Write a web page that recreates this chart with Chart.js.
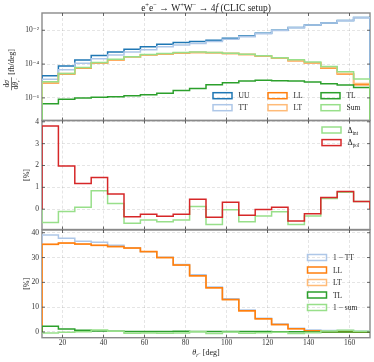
<!DOCTYPE html>
<html>
<head>
<meta charset="utf-8">
<script src="https://cdn.jsdelivr.net/npm/chart.js@4"></script>
<style>
html, body { margin: 0; padding: 0; background: #fff; }
#wrap { position: relative; width: 374px; height: 362px; }
#wrap canvas { position: absolute; left: 0; top: 0; }
</style>
</head>
<body>
<div id="wrap">
  <canvas id="rateChart" width="374" height="362"></canvas>
  <canvas id="deltaChart" width="374" height="362"></canvas>
  <canvas id="fracChart" width="374" height="362"></canvas>
</div>
<script>
// bin edges of theta [deg] and axis ticks
const thetaEdges = [10, 18, 26, 34, 42, 50, 58, 66, 74, 82, 90, 98, 106, 114, 122, 130, 138, 146, 154, 162, 170];
const thetaTicks = [20, 40, 60, 80, 100, 120, 140, 160];

// top panel: dsigma/dtheta [fb/deg]
const rateUU = [2.04e-5, 7.6e-5, 1.74e-4, 3.24e-4, 5.1e-4, 7.6e-4, 1.05e-3, 1.51e-3, 1.86e-3, 2.14e-3, 2.57e-3, 3.39e-3, 4.57e-3, 6.6e-3, 1.0e-2, 1.45e-2, 2.04e-2, 2.69e-2, 3.72e-2, 5.6e-2];
const rateTT = [1.26e-5, 4.68e-5, 1.12e-4, 2.09e-4, 3.39e-4, 5.13e-4, 7.08e-4, 1.05e-3, 1.35e-3, 1.66e-3, 2.14e-3, 2.95e-3, 4.17e-3, 6.3e-3, 9.8e-3, 1.41e-2, 2.02e-2, 2.67e-2, 3.70e-2, 5.58e-2];
const rateLL = [7.6e-6, 2.63e-5, 5.75e-5, 1.12e-4, 1.74e-4, 2.51e-4, 3.39e-4, 3.98e-4, 4.57e-4, 4.79e-4, 4.68e-4, 4.17e-4, 3.63e-4, 2.95e-4, 2.24e-4, 1.58e-4, 1.15e-4, 5.6e-5, 2.57e-5, 6.0e-6];
const rateLT = [7.9e-6, 2.75e-5, 6.0e-5, 1.15e-4, 1.78e-4, 2.57e-4, 3.47e-4, 4.07e-4, 4.68e-4, 4.9e-4, 4.79e-4, 4.27e-4, 3.72e-4, 3.02e-4, 2.29e-4, 1.62e-4, 1.17e-4, 6.0e-5, 2.8e-5, 7.1e-6];
const rateTL = [4.5e-7, 8.3e-7, 1.0e-6, 1.1e-6, 1.15e-6, 1.32e-6, 1.51e-6, 1.9e-6, 2.7e-6, 3.55e-6, 6.0e-6, 7.9e-6, 1.0e-5, 1.1e-5, 1.05e-5, 1.0e-5, 8.7e-6, 6.9e-6, 5.75e-6, 4.1e-6];
const rateSum = [9.1e-6, 2.8e-5, 6.3e-5, 1.26e-4, 1.9e-4, 2.69e-4, 3.72e-4, 4.27e-4, 4.9e-4, 5.1e-4, 4.9e-4, 4.37e-4, 3.8e-4, 3.16e-4, 2.4e-4, 1.78e-4, 1.32e-4, 7.2e-5, 3.55e-5, 1.32e-5];
const rateTicks = [1e-6, 1e-4, 1e-2];

// middle panel: Delta [%]
const deltaInt = [-0.61, -0.11, 0.09, 0.84, 0.26, -0.64, -0.5, -0.58, -0.5, 0.12, -0.7, -0.03, -0.58, -0.31, -0.12, -0.7, -0.31, 0.49, 0.78, 0.35];
const deltaPol = [3.81, 1.98, 1.18, 1.45, 0.69, -0.35, -0.23, -0.32, -0.23, 0.46, -0.37, 0.32, -0.28, -0.02, 0.09, -0.54, -0.21, 0.54, 0.81, 0.35];
const deltaTicks = [0, 1, 2, 3, 4];

// bottom panel: fractions [%]
const fracOneMinusTT = [39.1, 37.8, 36.6, 36.2, 35.0, 33.9, 32.3, 30.1, 27.2, 23.1, 18.1, 13.4, 8.9, 5.5, 3.2, 1.5, 0.8, 0.6, 0.6, 0.3];
const fracLL = [35.4, 35.9, 35.5, 35.0, 34.5, 33.8, 32.4, 30.0, 27.0, 22.7, 17.8, 13.1, 8.6, 5.3, 3.0, 1.35, 0.55, 0.1, 0.05, 0.02];
const fracLT = [35.3, 35.8, 35.4, 34.9, 34.4, 33.7, 32.3, 29.9, 26.9, 22.6, 17.7, 13.0, 8.5, 5.2, 2.9, 1.3, 0.5, 0.1, 0.05, 0.02];
const fracTL = [2.3, 1.2, 0.7, 0.45, 0.3, 0.2, 0.15, 0.15, 0.25, 0.2, 0.23, 0.2, 0.2, 0.15, 0.1, 0.07, 0.04, 0.03, 0.02, 0.01];
const fracOneMinusSum = [-0.45, -0.1, 0.1, 0.8, 0.25, -0.55, -0.45, -0.5, -0.45, 0.1, -0.6, -0.05, -0.5, -0.3, -0.1, -0.6, -0.3, 0.45, 0.7, 0.3];
const fracTicks = [0, 10, 20, 30, 40];

const col = {
    UU: '#1f77b4', TT: '#aec7e8', LL: '#ff7f0e', LT: '#ffbb78',
    TL: '#2ca02c', Sum: '#98df8a', pol: '#d62728'
};
const serif = "'Liberation Serif', 'DejaVu Serif', serif";
const tickFont = { family: serif, size: 7.5 };
const gridColor = 'rgba(0,0,0,0.13)';

// histogram outline: up from the base at the first edge, down at the last
function stepPoints(values, base) {
    const pts = [{ x: thetaEdges[0], y: base }];
    values.forEach((v, i) => pts.push({ x: thetaEdges[i], y: v }));
    pts.push({ x: thetaEdges[thetaEdges.length - 1], y: base });
    return pts;
}

function histSet(label, values, color, base, order) {
    return {
        label: label,
        data: stepPoints(values, base),
        borderColor: color,
        backgroundColor: color,
        borderWidth: 1.5,
        pointRadius: 0,
        fill: false,
        stepped: 'before',
        order: order
    };
}

function xAxis(showLabels) {
    return {
        type: 'linear', min: 10, max: 170,
        afterBuildTicks: s => { s.ticks = thetaTicks.map(v => ({ value: v })); },
        afterFit: s => { s.height = showLabels ? 24.3 : 0; },
        grid: { color: gridColor, lineWidth: 0.8, drawTicks: false },
        border: { display: false, dash: [3, 2] },
        ticks: { display: showLabels, padding: 1, color: '#333', font: tickFont, maxRotation: 0 }
    };
}

function yAxis(type, min, max, ticks, callback) {
    return {
        type: type, min: min, max: max,
        afterBuildTicks: s => { s.ticks = ticks.map(v => ({ value: v })); },
        afterFit: s => { s.width = 42; },
        grid: { color: gridColor, lineWidth: 0.8, drawTicks: false },
        border: { display: false, dash: [3, 2] },
        ticks: { padding: 3, color: '#333', font: tickFont, callback: callback }
    };
}

const sup = { '-': '\u207b', '0': '\u2070', '1': '\u00b9', '2': '\u00b2', '3': '\u00b3', '4': '\u2074', '5': '\u2075', '6': '\u2076', '7': '\u2077', '8': '\u2078', '9': '\u2079' };
function powLabel(v) {
    const e = String(Math.round(Math.log10(v)));
    return '10' + e.split('').map(c => sup[c]).join('');
}

// draw a run of text pieces: {t, size, dy, italic}
function richWidth(ctx, parts) {
    let w = 0;
    parts.forEach(p => {
        ctx.font = (p.italic ? 'italic ' : '') + p.size + 'px ' + serif;
        w += ctx.measureText(p.t).width;
    });
    return w;
}
function drawRich(ctx, parts, x, y, align) {
    let cx = x;
    if (align === 'center') cx = x - richWidth(ctx, parts) / 2;
    ctx.textAlign = 'left';
    ctx.textBaseline = 'alphabetic';
    parts.forEach(p => {
        ctx.font = (p.italic ? 'italic ' : '') + p.size + 'px ' + serif;
        ctx.fillText(p.t, cx, y + (p.dy || 0));
        cx += ctx.measureText(p.t).width;
    });
}

const panelDecor = {
    id: 'panelDecor',
    beforeDatasetsDraw(chart) {
        const ctx = chart.ctx, a = chart.chartArea;
        ctx.save();
        ctx.strokeStyle = '#8a8a8a';
        ctx.lineWidth = 1.4;
        ctx.strokeRect(a.left, a.top, a.right - a.left, a.bottom - a.top);
        ctx.restore();
    },
    afterDraw(chart, args, opts) {
        const ctx = chart.ctx, a = chart.chartArea;
        const xs = chart.scales.x, ys = chart.scales.y;
        ctx.save();
        // inward tick marks on all four sides
        ctx.strokeStyle = '#444';
        ctx.lineWidth = 0.8;
        ctx.beginPath();
        thetaTicks.forEach(v => {
            const px = xs.getPixelForValue(v);
            ctx.moveTo(px, a.bottom); ctx.lineTo(px, a.bottom - 3);
            ctx.moveTo(px, a.top); ctx.lineTo(px, a.top + 3);
        });
        ys.ticks.forEach(t => {
            const py = ys.getPixelForValue(t.value);
            ctx.moveTo(a.left, py); ctx.lineTo(a.left + 3, py);
            ctx.moveTo(a.right, py); ctx.lineTo(a.right - 3, py);
        });
        ctx.stroke();

        // legend with outlined boxes, column-major
        const lg = opts.legend;
        ctx.fillStyle = '#222';
        lg.items.forEach((it, i) => {
            const c = Math.floor(i / lg.rows.length), r = i % lg.rows.length;
            const bx = lg.cols[c], by = lg.rows[r];
            ctx.strokeStyle = it.color;
            ctx.lineWidth = 1.5;
            ctx.strokeRect(bx, by - 3, 19, 6);
            drawRich(ctx, it.parts, bx + 25.5, by + 2.7, 'left');
        });

        // axis labels / title
        ctx.fillStyle = '#222';
        if (opts.title) drawRich(ctx, opts.title, (a.left + a.right) / 2, 10.5, 'center');
        if (opts.xlabel) drawRich(ctx, opts.xlabel, (a.left + a.right) / 2, 355, 'center');
        if (opts.ylabel) opts.ylabel(ctx, a);
        ctx.restore();
    }
};

function pct(ctx, a) {
    ctx.save();
    ctx.translate(26.5, (a.top + a.bottom) / 2);
    ctx.rotate(-Math.PI / 2);
    drawRich(ctx, [{ t: '[%]', size: 8 }], 0, 2.8, 'center');
    ctx.restore();
}

function baseOptions(padding, scales, decor) {
    return {
        responsive: false,
        animation: false,
        devicePixelRatio: 1,
        events: [],
        layout: { padding: padding },
        scales: scales,
        plugins: { legend: { display: false }, tooltip: { enabled: false }, panelDecor: decor }
    };
}

const L = (t) => [{ t: t, size: 7.5 }];
const sm = (t, dy) => ({ t: t, size: 5.2, dy: dy });

// top panel
new Chart(document.getElementById('rateChart'), {
    type: 'line',
    data: {
        datasets: [
            histSet('UU', rateUU, col.UU, 1e-10, 0),
            histSet('TT', rateTT, col.TT, 1e-10, -1),
            histSet('LL', rateLL, col.LL, 1e-10, -2),
            histSet('LT', rateLT, col.LT, 1e-10, -3),
            histSet('TL', rateTL, col.TL, 1e-10, -4),
            histSet('Sum', rateSum, col.Sum, 1e-10, -5)
        ]
    },
    options: baseOptions({ left: 0, right: 4, top: 13, bottom: 241.5 }, {
        x: xAxis(false),
        y: yAxis('logarithmic', 4.6e-8, 0.105, rateTicks, powLabel)
    }, {
        legend: {
            cols: [213, 268, 321], rows: [95.7, 107.7],
            items: [
                { color: col.UU, parts: L('UU') }, { color: col.TT, parts: L('TT') },
                { color: col.LL, parts: L('LL') }, { color: col.LT, parts: L('LT') },
                { color: col.TL, parts: L('TL') }, { color: col.Sum, parts: L('Sum') }
            ]
        },
        title: [
            { t: 'e', size: 9.5 }, { t: '+', size: 6.5, dy: -3.5 }, { t: 'e', size: 9.5 }, { t: '\u2212', size: 6.5, dy: -3.5 },
            { t: ' \u2192 W', size: 9.5 }, { t: '+', size: 6.5, dy: -3.5 }, { t: 'W', size: 9.5 }, { t: '\u2212', size: 6.5, dy: -3.5 },
            { t: ' \u2192 4', size: 9.5 }, { t: 'f', size: 9.5, italic: true }, { t: ' (CLIC setup)', size: 9.5 }
        ],
        ylabel: (ctx, a) => {
            ctx.save();
            ctx.translate(11, (a.top + a.bottom) / 2);
            ctx.rotate(-Math.PI / 2);
            drawRich(ctx, [{ t: 'd', size: 7.5 }, { t: '\u03c3', size: 7.5, italic: true }], -17, -1.8, 'center');
            drawRich(ctx, [{ t: 'd', size: 7.5 }, { t: '\u03b8', size: 7.5, italic: true }, { t: 'r', size: 5, dy: 1.5, italic: true }, { t: '\u2212', size: 4, dy: -0.5 }], -17, 7.3, 'center');
            ctx.strokeStyle = '#222';
            ctx.lineWidth = 0.6;
            ctx.beginPath(); ctx.moveTo(-23.5, 0.5); ctx.lineTo(-10.5, 0.5); ctx.stroke();
            drawRich(ctx, [{ t: '[fb/deg]', size: 8 }], -8, 3.3, 'left');
            ctx.restore();
        }
    })
    ,
    plugins: [panelDecor]
});

// middle panel
new Chart(document.getElementById('deltaChart'), {
    type: 'line',
    data: {
        datasets: [
            histSet('\u0394int', deltaInt, col.Sum, 0, 0),
            histSet('\u0394pol', deltaPol, col.pol, 0, -1)
        ]
    },
    options: baseOptions({ left: 0, right: 4, top: 120.5, bottom: 132.5 }, {
        x: xAxis(false),
        y: yAxis('linear', -0.93, 4.06, deltaTicks, v => String(v))
    }, {
        legend: {
            cols: [322], rows: [130, 142.6],
            items: [
                { color: col.Sum, parts: [{ t: '\u0394', size: 8 }, sm('int', 1.8)] },
                { color: col.pol, parts: [{ t: '\u0394', size: 8 }, sm('pol', 1.8)] }
            ]
        },
        ylabel: pct
    }),
    plugins: [panelDecor]
});

// bottom panel
new Chart(document.getElementById('fracChart'), {
    type: 'line',
    data: {
        datasets: [
            histSet('1 - TT', fracOneMinusTT, col.TT, 0, 0),
            histSet('LT', fracLT, col.LT, 0, -1),
            histSet('LL', fracLL, col.LL, 0, -2),
            histSet('TL', fracTL, col.TL, 0, -3),
            histSet('1 - sum', fracOneMinusSum, col.Sum, 0, -4)
        ]
    },
    options: baseOptions({ left: 0, right: 4, top: 230, bottom: 0 }, {
        x: xAxis(true),
        y: yAxis('linear', -2.3, 41.1, fracTicks, v => String(v))
    }, {
        legend: {
            cols: [307.5], rows: [257.5, 270, 282.5, 295, 307.5],
            items: [
                { color: col.TT, parts: L('1 \u2212 TT') }, { color: col.LL, parts: L('LL') },
                { color: col.LT, parts: L('LT') }, { color: col.TL, parts: L('TL') },
                { color: col.Sum, parts: L('1 \u2212 sum') }
            ]
        },
        xlabel: [
            { t: '\u03b8', size: 8, italic: true }, { t: 'r', size: 5.5, dy: 1.8, italic: true },
            { t: '\u2212', size: 4.5, dy: -0.5 }, { t: ' [deg]', size: 8 }
        ],
        ylabel: pct
    }),
    plugins: [panelDecor]
});
</script>
</body>
</html>
